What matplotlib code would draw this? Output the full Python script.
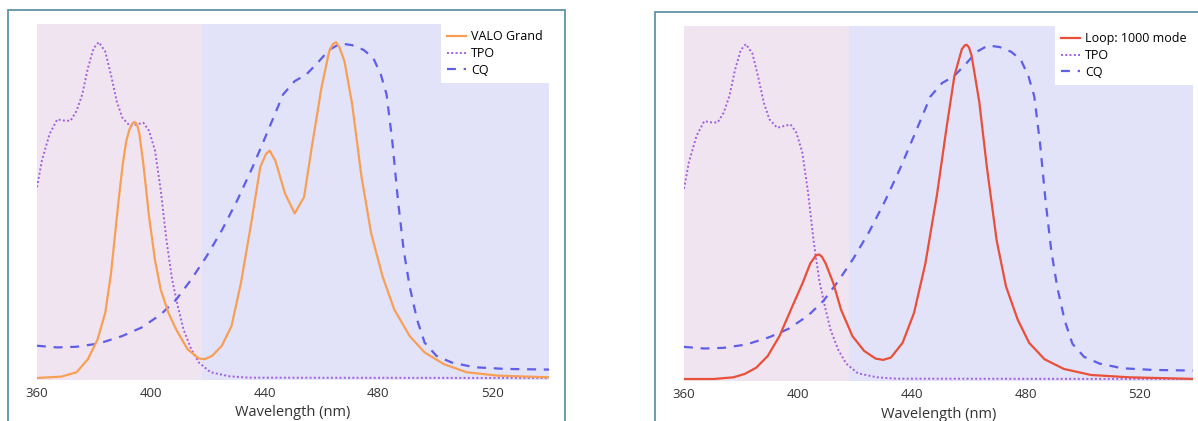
#Absorption spectra of photoinitiators vs. curing light emission

import numpy as np
import matplotlib.pyplot as plt
from matplotlib.patches import Rectangle

plt.rcParams['font.family'] = ['Open Sans', 'DejaVu Sans']

#VALO Grand emission (normalised)
valo_nm = [360, 368.5, 373.9, 377.9, 381.3, 384, 386, 388.7, 390.2, 391.4, 392.5, 393.4, 394.1,
           394.7, 395.4, 396, 397.4, 399.4, 401.5, 403.5, 406.2, 408.9, 412.9, 416.9, 419, 421.6,
           425, 428.4, 431.7, 435.1, 438.5, 440.5, 441.8, 443.8, 447.2, 450.6, 453.9, 456.6, 460,
           462.7, 464, 465.1, 466.3, 468.1, 470.8, 474.1, 477.5, 481.5, 485.6, 491, 496.3, 503.1,
           511.1, 522, 540]
valo_val = [0.0, 0.004, 0.017, 0.056, 0.115, 0.194, 0.31, 0.53, 0.64, 0.706, 0.74, 0.756, 0.762,
            0.76, 0.748, 0.726, 0.637, 0.48, 0.35, 0.263, 0.194, 0.145, 0.086, 0.058, 0.056, 0.066,
            0.096, 0.155, 0.283, 0.45, 0.628, 0.667, 0.677, 0.647, 0.549, 0.49, 0.539, 0.687, 0.864,
            0.972, 0.994, 1.0, 0.985, 0.943, 0.815, 0.598, 0.43, 0.302, 0.204, 0.125, 0.076, 0.041,
            0.017, 0.007, 0.002]

#Loop: 1000 mode emission (normalised)
loop_nm = [360, 370.5, 377.3, 381.3, 385.4, 389.4, 393.5, 397.5, 401.6, 404.3, 406.3, 407.4,
           408.4, 409.7, 412.4, 415.1, 419.1, 423.2, 427.2, 429.9, 432.6, 436.7, 440.7, 444.7,
           448.8, 452.1, 454.9, 457.5, 458.5, 459.2, 460, 460.9, 463.6, 466.3, 469.7, 473, 477.1,
           481.1, 486.5, 493.3, 502.8, 516.3, 540]
loop_val = [0.0, 0.0, 0.005, 0.015, 0.034, 0.069, 0.128, 0.207, 0.286, 0.345, 0.369, 0.372,
            0.365, 0.345, 0.286, 0.207, 0.128, 0.084, 0.061, 0.057, 0.064, 0.108, 0.197, 0.345,
            0.552, 0.749, 0.906, 0.985, 0.996, 0.998, 0.99, 0.966, 0.828, 0.631, 0.414, 0.276,
            0.177, 0.108, 0.059, 0.03, 0.012, 0.005, 0.0]

#TPO absorption
tpo_nm = [360, 361.7, 364.4, 367.1, 369.8, 371.8, 373.9, 375.9, 377.9, 379.9, 381.7, 384, 386,
          388, 390, 392.7, 395.4, 397.4, 399.4, 401.5, 403.5, 405.5, 407.5, 409.5, 411.5, 414.2,
          416.9, 421, 427.7, 434.4, 540]
tpo_val = [0.568, 0.647, 0.726, 0.77, 0.766, 0.766, 0.795, 0.844, 0.923, 0.982, 1.0, 0.972, 0.903,
           0.825, 0.775, 0.75, 0.756, 0.76, 0.736, 0.677, 0.559, 0.411, 0.293, 0.214, 0.145, 0.086,
           0.046, 0.017, 0.005, 0.001, 0.0]

#CQ absorption
cq_nm = [360, 367.1, 373.9, 381.9, 390, 396.7, 403.5, 408.9, 414.2, 419.6, 425, 430.4, 435.8,
         441.2, 446.5, 450.6, 454.6, 458.6, 462.7, 466.7, 470.8, 474.8, 478.2, 480.9, 482.9,
         484.9, 486.9, 488.9, 491, 493.6, 496.3, 500.4, 505.8, 513.8, 524.6, 540]
cq_val = [0.096, 0.091, 0.093, 0.103, 0.125, 0.15, 0.189, 0.233, 0.293, 0.362, 0.44, 0.529, 0.628,
          0.736, 0.844, 0.884, 0.903, 0.938, 0.977, 0.996, 0.991, 0.977, 0.953, 0.903, 0.844,
          0.706, 0.529, 0.381, 0.273, 0.174, 0.105, 0.066, 0.046, 0.032, 0.027, 0.025]

ticks = [360, 400, 440, 480, 520]
split = 418     #TPO / CQ region boundary

W, H = 1198, 421
fig = plt.figure(figsize=(W/100, H/100), dpi=100)

#panel frames (cut off by the figure edge)
frame_col = '#5f93a6'
fig.patches.append(Rectangle((8/W, -0.1), (565-8)/W, 1.1 - 10/H, transform=fig.transFigure,
                             fill=False, edgecolor=frame_col, linewidth=1.3))
fig.patches.append(Rectangle((655/W, -0.1), (1220-655)/W, 1.1 - 12/H, transform=fig.transFigure,
                             fill=False, edgecolor=frame_col, linewidth=1.3))

panels = [
    ([37/W, 1-380/H, 512/W, 356/H], 540, valo_nm, valo_val, '#f7a055', 'VALO Grand'),
    ([684/W, 1-381/H, 509/W, 355/H], 538.6, loop_nm, loop_val, '#e8503a', 'Loop: 1000 mode'),
]

for rect, xmax, lnm, lval, lcol, lname in panels:
    ax = fig.add_axes(rect)
    ax.axvspan(360, split, color='#f1e4f1', lw=0, zorder=0)
    ax.axvspan(split, xmax, color='#e2e2f9', lw=0, zorder=0)
    ax.plot(lnm, lval, color=lcol, lw=1.6, label=lname, zorder=3)
    ax.plot(tpo_nm, tpo_val, color='#a15fe0', lw=1.4, linestyle=(0, (1, 1.2)), label='TPO', zorder=2)
    ax.plot(cq_nm, cq_val, color='#5e5ee8', lw=1.6, linestyle=(0, (4, 3.5)), label='CQ', zorder=2)
    ax.set_xlim(360, xmax)
    ax.set_ylim(-0.006, 1.054)
    ax.set_xticks(ticks)
    ax.set_yticks([])
    ax.tick_params(axis='x', length=0, labelsize=9.5, colors='#333333', pad=5)
    for s in ax.spines.values():
        s.set_visible(False)
    ax.set_xlabel('Wavelength (nm)', fontsize=10.5, color='#333333', labelpad=4)
    leg = ax.legend(loc='upper right', borderaxespad=0, fontsize=9, handlelength=1.5,
                    handletextpad=0.4, labelspacing=0.3, fancybox=False, framealpha=1,
                    borderpad=0.5)
    leg.get_frame().set_linewidth(0)
    leg.get_frame().set_facecolor('white')

plt.savefig('out.png', dpi=100)
